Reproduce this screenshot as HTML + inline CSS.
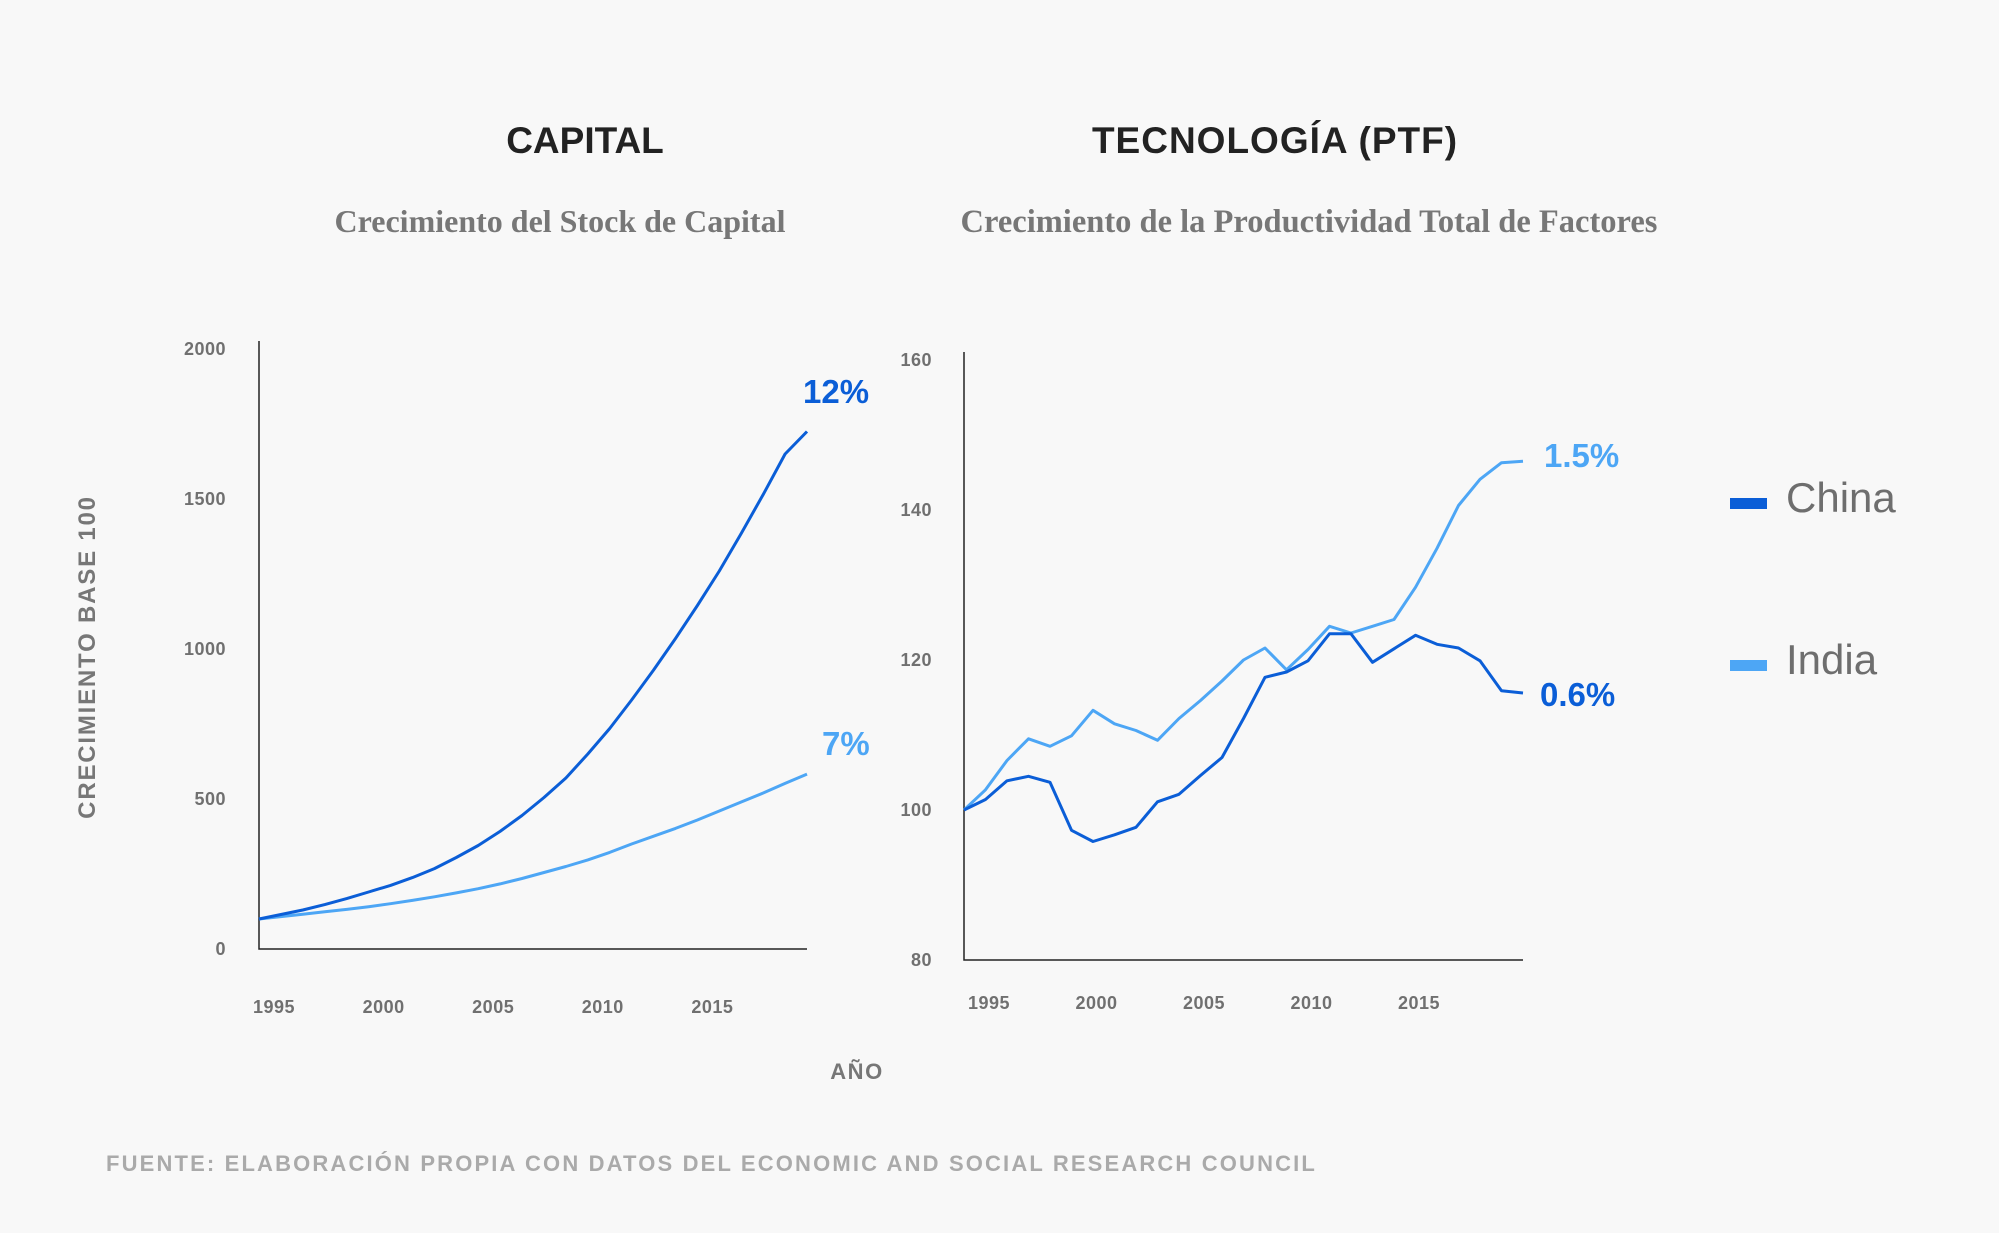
<!DOCTYPE html>
<html><head><meta charset="utf-8"><style>
html,body{margin:0;padding:0;background:#f8f8f8;}
svg{display:block;font-family:"Liberation Sans",sans-serif;}
.tick{font-size:18px;font-weight:bold;fill:#707070;letter-spacing:0.5px}
</style></head><body>
<svg id="chart" width="1999" height="1233" viewBox="0 0 1999 1233">
<rect width="1999" height="1233" fill="#f8f8f8"/>
<text x="585" y="153" text-anchor="middle" font-size="37" font-weight="bold" fill="#222">CAPITAL</text>
<text x="1275" y="153" text-anchor="middle" font-size="37" font-weight="bold" fill="#222" letter-spacing="1">TECNOLOGÍA (PTF)</text>
<text x="560" y="232" text-anchor="middle" font-size="32" font-family="Liberation Serif, serif" font-weight="bold" fill="#777">Crecimiento del Stock de Capital</text>
<text x="1309" y="232" text-anchor="middle" font-size="32.5" font-family="Liberation Serif, serif" font-weight="bold" fill="#777">Crecimiento de la Productividad Total de Factores</text>
<text transform="translate(95,657) rotate(-90)" text-anchor="middle" font-size="24" font-weight="bold" fill="#777" letter-spacing="1.8">CRECIMIENTO BASE 100</text>
<text x="857" y="1079" text-anchor="middle" font-size="22" font-weight="bold" fill="#777" letter-spacing="1.5">AÑO</text>
<text x="106" y="1171" font-size="22" font-weight="bold" fill="#aaa" letter-spacing="2.15">FUENTE: ELABORACIÓN PROPIA CON DATOS DEL ECONOMIC AND SOCIAL RESEARCH COUNCIL</text>
<g id="c1"></g>
<g id="c2"></g>
<text x="803" y="403" font-size="33" font-weight="bold" fill="#0b5ed7">12%</text>
<text x="822" y="755" font-size="33" font-weight="bold" fill="#4da6f5">7%</text>
<text x="1544" y="467" font-size="33" font-weight="bold" fill="#4da6f5">1.5%</text>
<text x="1540" y="706" font-size="33" font-weight="bold" fill="#0b5ed7">0.6%</text>
<g>
<rect x="1730" y="498" width="37" height="11" fill="#0b5ed7"/>
<text x="1786" y="512" font-size="42" fill="#6e6e6e">China</text>
<rect x="1730" y="660" width="37" height="11" fill="#4da6f5"/>
<text x="1786" y="674" font-size="42" fill="#6e6e6e">India</text>
</g>
</svg>
<script>
const capYears=[1995,1996,1997,1998,1999,2000,2001,2002,2003,2004,2005,2006,2007,2008,2009,2010,2011,2012,2013,2014,2015,2016,2017,2018,2019,2020];
const capChina=[100,115,130,148,168,190,212,238,268,305,345,392,445,505,570,650,735,830,930,1035,1145,1260,1385,1515,1650,1725];
const capIndia=[100,108,116,124,132,141,151,162,174,187,201,217,235,255,275,297,322,350,376,402,430,460,490,520,552,583];
const capTicks=[0,500,1000,1500,2000];
const xTickYears=[1995,2000,2005,2010,2015];
const tfpYears=[1995,1996,1997,1998,1999,2000,2001,2002,2003,2004,2005,2006,2007,2008,2009,2010,2011,2012,2013,2014,2015,2016,2017,2018,2019,2020,2021];
const tfpChina=[100,101.4,103.9,104.5,103.7,97.3,95.8,96.7,97.7,101.1,102.1,104.6,107.0,112.2,117.7,118.4,119.9,123.5,123.5,119.7,121.5,123.3,122.1,121.6,119.9,115.9,115.6];
const tfpIndia=[100,102.7,106.6,109.5,108.5,109.9,113.3,111.5,110.6,109.3,112.2,114.6,117.2,120,121.6,118.7,121.4,124.5,123.6,124.5,125.4,129.7,134.9,140.6,144.1,146.3,146.5];
const tfpTicks=[80,100,120,140,160];
const NS='http://www.w3.org/2000/svg';
function mk(parent,tag,attrs){const e=document.createElementNS(NS,tag);for(const k in attrs)e.setAttribute(k,attrs[k]);parent.appendChild(e);return e;}
function drawChart(g,years,s1,s2,ticks,box,labelOff,names){
  const x=v=>box.x0+(v-years[0])/(years[years.length-1]-years[0])*(box.x1-box.x0);
  const y=v=>box.yb-(v-ticks[0])/(ticks[ticks.length-1]-ticks[0])*(box.yb-box.yt);
  const ax=mk(g,'path',{d:`M${box.x0} ${box.yt-8}V${box.yb}H${box.x1}`,fill:'none',stroke:'#222','stroke-width':1.5});
  
  
  ticks.forEach(t=>{const e=mk(g,'text',{x:box.tx,y:y(t)+6,'text-anchor':'end',class:'tick'});e.textContent=t;
    
    });
  xTickYears.forEach(t=>{const e=mk(g,'text',{x:x(t)+labelOff,y:box.lby,'text-anchor':'middle',class:'tick'});e.textContent=t;
    
    });
  [[s2,'#4da6f5','india'],[s1,'#0b5ed7','china']].forEach(([s,c,n])=>{
    const p=mk(g,'path',{d:s.map((v,i)=>(i?'L':'M')+x(years[i]).toFixed(1)+' '+y(v).toFixed(1)).join(''),fill:'none',stroke:c,'stroke-width':3,'stroke-linejoin':'round'});
    
    
  });
}
drawChart(document.getElementById('c1'),capYears,capChina,capIndia,capTicks,{x0:259,x1:807,yt:349,yb:949,tx:226,lby:1013},15,'capital');
drawChart(document.getElementById('c2'),tfpYears,tfpChina,tfpIndia,tfpTicks,{x0:964,x1:1523,yt:360,yb:960,tx:932,lby:1009},25,'tfp');
</script>
</body></html>
